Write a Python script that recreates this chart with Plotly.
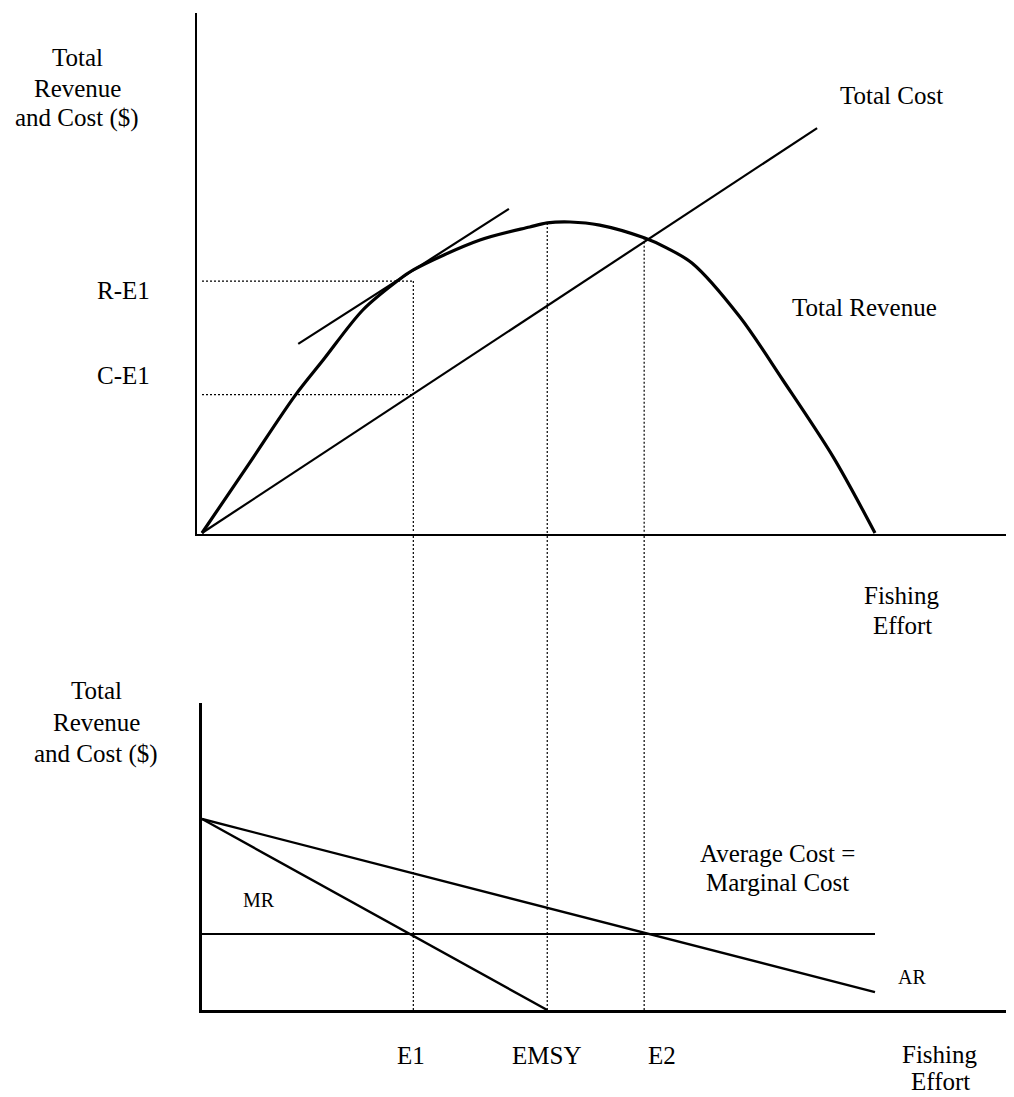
import plotly.graph_objects as go

# ---------------- data ----------------
# top panel: total revenue / total cost vs fishing effort
effort_tr = [0, 6.9, 13.8, 18.0, 23.9, 29.0, 31.4, 41.3, 48.7, 51.3, 54.7, 59.1,
             65.7, 69.1, 72.8, 79.9, 86.3, 93.8, 100]
total_revenue = [0, 22.0, 44.1, 55.6, 71.7, 81.0, 84.6, 94.2, 98.4, 99.7, 100, 99.0,
                 94.9, 91.6, 86.8, 69.5, 49.2, 24.4, 0]
effort_tc = [0, 91.4]
total_cost = [0, 130.2]
effort_tangent = [14.3, 45.6]
tangent_value = [60.8, 104.2]

effort_marks = [31.4, 51.3, 65.7]          # E1, EMSY, E2
effort_labels = ["E1", "EMSY", "E2"]
mark_tops = [81.0, 99.7, 94.9]             # where the dotted guides start (top panel)
level_values = [81.0, 44.5]                # R-E1, C-E1
level_labels = ["R-E1", "C-E1"]

# bottom panel: average / marginal revenue and cost
effort_ar = [0, 100]
average_revenue = [100, 9.4]
effort_mr = [0, 51.3]
marginal_revenue = [100, 0]
effort_ac = [0, 100]
average_cost = [39.8, 39.8]

# ---------------- layout helpers ----------------
PAGE_W, PAGE_H = 1014, 1097
OFF = 8                      # default page margin around the plot div
W, H = PAGE_W - OFF, PAGE_H - OFF
FONT = "Liberation Serif, Times New Roman, serif"
kx = 6.73   # px per effort unit
ky = 3.11   # px per revenue unit (top)
kb = 1.91   # px per unit (bottom)
X0 = 202    # page pixel of zero effort


def px(p):
    return (p - OFF) / W


def py(p):
    return 1 - (p - OFF) / H


top_dom = [py(534), py(13)]
bot_dom = [py(1010), py(703)]

fig = go.Figure()

# top panel traces
fig.add_trace(go.Scatter(x=effort_tr, y=total_revenue, mode="lines",
                         line=dict(color="black", width=3.2, shape="spline", smoothing=0.9),
                         xaxis="x", yaxis="y", hoverinfo="skip"))
fig.add_trace(go.Scatter(x=effort_tc, y=total_cost, mode="lines",
                         line=dict(color="black", width=2.2),
                         xaxis="x", yaxis="y", hoverinfo="skip"))
fig.add_trace(go.Scatter(x=effort_tangent, y=tangent_value, mode="lines",
                         line=dict(color="black", width=2.2),
                         xaxis="x", yaxis="y", hoverinfo="skip"))

DOT = "2px,2px"
# horizontal dotted guides
for lv in level_values:
    fig.add_trace(go.Scatter(x=[0, effort_marks[0]], y=[lv, lv], mode="lines",
                             line=dict(color="black", width=1.2, dash=DOT),
                             xaxis="x", yaxis="y", hoverinfo="skip"))
# vertical dotted guides (top part)
for e, t in zip(effort_marks, mark_tops):
    fig.add_trace(go.Scatter(x=[e, e], y=[t, 0], mode="lines",
                             line=dict(color="black", width=1.2, dash=DOT),
                             xaxis="x", yaxis="y", hoverinfo="skip"))
    # continuation through the gap and bottom panel
    fig.add_shape(type="line", xref="x", yref="paper", x0=e, x1=e,
                  y0=bot_dom[0], y1=top_dom[0],
                  line=dict(color="black", width=1.2, dash=DOT), layer="above")

# bottom panel traces
fig.add_trace(go.Scatter(x=effort_ar, y=average_revenue, mode="lines",
                         line=dict(color="black", width=2.4),
                         xaxis="x2", yaxis="y2", hoverinfo="skip"))
fig.add_trace(go.Scatter(x=effort_mr, y=marginal_revenue, mode="lines",
                         line=dict(color="black", width=2.4),
                         xaxis="x2", yaxis="y2", hoverinfo="skip"))
fig.add_trace(go.Scatter(x=effort_ac, y=average_cost, mode="lines",
                         line=dict(color="black", width=2.0),
                         xaxis="x2", yaxis="y2", hoverinfo="skip"))

axis_common = dict(showgrid=False, zeroline=False, showticklabels=False, ticks="",
                   showline=True, linecolor="black", fixedrange=True)

fig.update_layout(
    width=W, height=H,
    margin=dict(l=0, r=0, t=0, b=0),
    paper_bgcolor="white", plot_bgcolor="white",
    showlegend=False,
    xaxis=dict(domain=[px(197), 1], range=[(197 - X0) / kx, (PAGE_W - X0) / kx],
               anchor="y", linewidth=2, **axis_common),
    yaxis=dict(domain=top_dom, range=[-(534 - 533) / ky, (533 - 13) / ky],
               anchor="x", linewidth=2, **axis_common),
    xaxis2=dict(domain=[px(X0), 1], range=[0, (PAGE_W - X0) / kx],
                anchor="y2", linewidth=2.6, **axis_common),
    yaxis2=dict(domain=bot_dom, range=[0, (1010 - 703) / kb],
                anchor="x2", linewidth=2.6, **axis_common),
)


def txt(text, x, y, size=25, xref="paper", yref="paper", xshift=0, yshift=0):
    fig.add_annotation(text=text, x=x, y=y, xref=xref, yref=yref,
                       xanchor="center", yanchor="middle", showarrow=False,
                       xshift=xshift, yshift=yshift,
                       font=dict(family=FONT, size=size, color="black"))


# top-left axis title
for t, yy in zip(["Total", "Revenue", "and Cost ($)"], [57, 88, 118]):
    txt(t, px(77), py(yy))
# level labels
txt(level_labels[0], px(123), level_values[0], yref="y", yshift=-9)
txt(level_labels[1], px(123), level_values[1], yref="y", yshift=19)
# curve labels
txt("Total Cost", px(891), py(96))
txt("Total Revenue", px(864), py(307))
txt("Fishing", px(902), py(595))
txt("Effort", px(902), py(625))

# bottom-left axis title
for t, yy in zip(["Total", "Revenue", "and Cost ($)"], [690, 722, 754]):
    txt(t, px(96), py(yy))
txt("MR", px(259), py(900), size=20)
txt("AR", px(912), py(977), size=20)
txt("Average Cost =", px(777), py(853))
txt("Marginal Cost", px(777), py(882))

# effort labels
for e, lab, sh in zip(effort_marks, effort_labels, [-2, -1, 18]):
    txt(lab, e, py(1055), xref="x2", xshift=sh)
txt("Fishing", px(940), py(1054))
txt("Effort", px(940), py(1081))

fig.write_html("out.html")
